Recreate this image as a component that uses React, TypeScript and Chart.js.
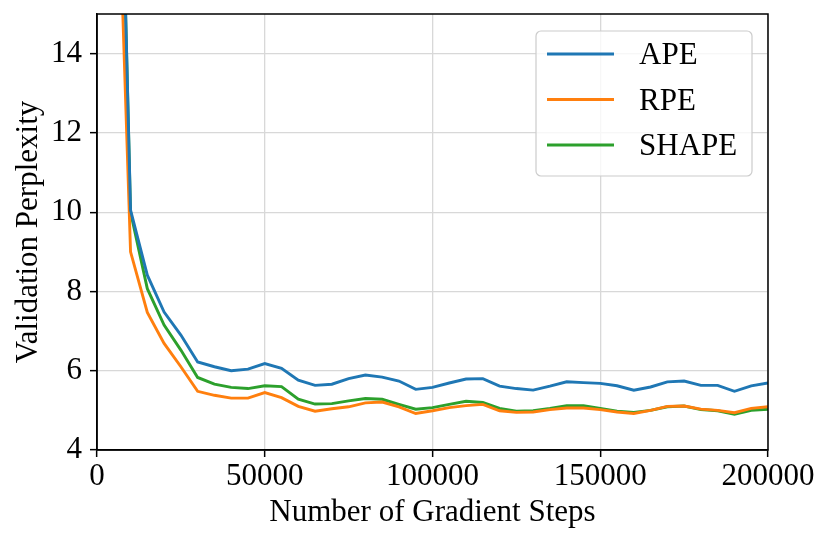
import React, { useEffect, useRef } from "react";
import { Chart, registerables } from "chart.js";

Chart.register(...registerables);

const steps = [
  5000, 10000, 15000, 20000, 25000, 30000, 35000, 40000, 45000, 50000,
  55000, 60000, 65000, 70000, 75000, 80000, 85000, 90000, 95000, 100000,
  105000, 110000, 115000, 120000, 125000, 130000, 135000, 140000, 145000, 150000,
  155000, 160000, 165000, 170000, 175000, 180000, 185000, 190000, 195000, 200000,
];

const apeValues = [
  27, 10.05, 8.41, 7.48, 6.9, 6.22, 6.1, 6.0, 6.04, 6.18,
  6.06, 5.76, 5.63, 5.66, 5.8, 5.89, 5.84, 5.74, 5.53, 5.58,
  5.69, 5.79, 5.8, 5.61, 5.55, 5.51, 5.61, 5.72, 5.7, 5.68,
  5.62, 5.51, 5.59, 5.72, 5.74, 5.63, 5.63, 5.48, 5.62, 5.69,
];

const rpeValues = [
  22, 9.0, 7.47, 6.69, 6.1, 5.48, 5.38, 5.31, 5.31, 5.45,
  5.32, 5.1, 4.98, 5.04, 5.09, 5.19, 5.21, 5.09, 4.92, 4.99,
  5.07, 5.12, 5.15, 4.99, 4.95, 4.96, 5.02, 5.06, 5.06, 5.02,
  4.96, 4.92, 5.0, 5.1, 5.11, 5.03, 5.0, 4.94, 5.05, 5.09,
];

const shapeValues = [
  27, 10.0, 8.07, 7.15, 6.52, 5.83, 5.66, 5.58, 5.55, 5.62,
  5.6, 5.28, 5.16, 5.17, 5.24, 5.3, 5.28, 5.15, 5.03, 5.07,
  5.15, 5.23, 5.2, 5.05, 4.98, 4.99, 5.05, 5.12, 5.12, 5.05,
  4.98, 4.95, 5.0, 5.09, 5.11, 5.02, 4.99, 4.9, 5.0, 5.03,
];

const seriesLabels = ["APE", "RPE", "SHAPE"];
const seriesColors = ["#1f77b4", "#ff7f0e", "#2ca02c"];
const xTicks = [0, 50000, 100000, 150000, 200000];
const yTicks = [4, 6, 8, 10, 12, 14];

const FONT = "'Liberation Serif', 'DejaVu Serif', serif";
const FS = 31;

const framePlugin = {
  id: "frameAndLegend",
  afterDraw(chart: any) {
    const { ctx, chartArea } = chart;
    ctx.save();
    ctx.strokeStyle = "#000";
    ctx.lineWidth = 1.5;
    ctx.strokeRect(chartArea.left, chartArea.top, chartArea.right - chartArea.left, chartArea.bottom - chartArea.top);
    const bx = 536, by = 31, bw = 216, bh = 145;
    ctx.beginPath();
    if ((ctx as any).roundRect) (ctx as any).roundRect(bx, by, bw, bh, 5);
    else ctx.rect(bx, by, bw, bh);
    ctx.fillStyle = "rgba(255,255,255,0.8)";
    ctx.fill();
    ctx.strokeStyle = "#cccccc";
    ctx.lineWidth = 1.2;
    ctx.stroke();
    const rows = [54, 99.5, 145];
    chart.data.datasets.forEach((ds: any, i: number) => {
      const y = rows[i];
      ctx.beginPath();
      ctx.moveTo(547, y);
      ctx.lineTo(614, y);
      ctx.strokeStyle = ds.borderColor;
      ctx.lineWidth = 2.9;
      ctx.stroke();
      ctx.fillStyle = "#000";
      ctx.font = `${FS}px ${FONT}`;
      ctx.textAlign = "left";
      ctx.textBaseline = "middle";
      ctx.fillText(ds.label, 639, y + 2);
    });
    ctx.restore();
  },
};

export default function App() {
  const ref = useRef<HTMLCanvasElement | null>(null);
  useEffect(() => {
    if (!ref.current) return;
    const allSeries = [apeValues, rpeValues, shapeValues];
    const chart = new Chart(ref.current, {
      type: "line",
      data: {
        datasets: allSeries.map((vals, i) => ({
          label: seriesLabels[i],
          data: steps.map((s, j) => ({ x: s, y: vals[j] })),
          borderColor: seriesColors[i],
          backgroundColor: seriesColors[i],
          borderWidth: 2.9,
          pointRadius: 0,
          tension: 0,
          fill: false,
        })),
      },
      options: {
        animation: false,
        responsive: false,
        devicePixelRatio: 1,
        layout: { padding: { left: 0, right: 63, top: 14, bottom: 0 } },
        plugins: { legend: { display: false }, tooltip: { enabled: false } },
        scales: {
          x: {
            type: "linear",
            min: 0,
            max: 200000,
            afterBuildTicks: (scale: any) => {
              scale.ticks = xTicks.map((v) => ({ value: v }));
            },
            afterFit: (scale: any) => {
              scale.height = 94;
              scale.paddingLeft = 0;
              scale.paddingRight = 0;
            },
            ticks: {
              color: "#000",
              font: { family: FONT, size: FS },
              padding: 1,
              maxRotation: 0,
              autoSkip: false,
              callback: (v: any) => String(v),
            },
            grid: {
              color: "#d8d8d8",
              lineWidth: 1.3,
              tickColor: "#000",
              tickLength: 7,
              tickWidth: 1.5,
            },
            border: { color: "#000", width: 1.5 },
            title: {
              display: true,
              text: "Number of Gradient Steps",
              color: "#000",
              font: { family: FONT, size: FS },
              padding: { top: 0, bottom: 13 },
            },
          },
          y: {
            type: "linear",
            min: 4,
            max: 15,
            afterBuildTicks: (scale: any) => {
              scale.ticks = yTicks.map((v) => ({ value: v }));
            },
            afterFit: (scale: any) => {
              scale.width = 97;
              scale.paddingTop = 0;
              scale.paddingBottom = 0;
            },
            ticks: {
              color: "#000",
              font: { family: FONT, size: FS },
              padding: 8,
              autoSkip: false,
              callback: (v: any) => String(v),
            },
            grid: {
              color: "#d8d8d8",
              lineWidth: 1.3,
              tickColor: "#000",
              tickLength: 7,
              tickWidth: 1.5,
            },
            border: { color: "#000", width: 1.5 },
            title: {
              display: true,
              text: "Validation Perplexity",
              color: "#000",
              font: { family: FONT, size: FS },
              padding: { top: 10, bottom: 0 },
            },
          },
        },
      },
      plugins: [framePlugin],
    } as any);
    return () => chart.destroy();
  }, []);
  return (
    <div style={{ position: "fixed", left: 0, top: 0, width: 831, height: 544, background: "#fff" }}>
      <canvas ref={ref} width={831} height={544} style={{ display: "block", width: 831, height: 544 }} />
    </div>
  );
}
